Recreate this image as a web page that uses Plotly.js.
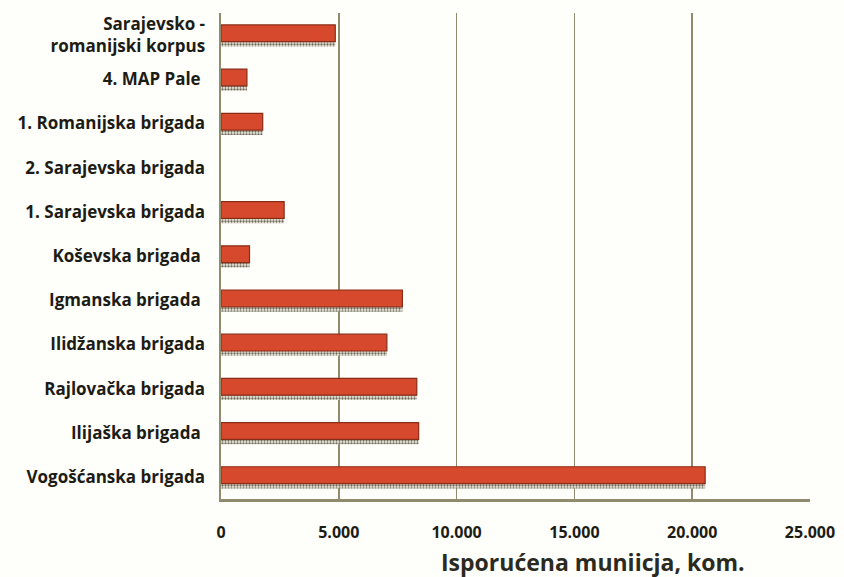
<!DOCTYPE html>
<html>
<head>
<meta charset="utf-8">
<script src="https://cdn.plot.ly/plotly-3.0.1.min.js"></script>
<style>html,body{margin:0;padding:0;background:#fefefb;}#chart{width:844px;height:577px;}</style>
</head>
<body>
<div id="chart"></div>
<script>
const units = ["Sarajevsko -<br>romanijski korpus", "4. MAP Pale ", "1. Romanijska brigada", "2. Sarajevska brigada", "1. Sarajevska brigada", "Koševska brigada ", "Igmanska brigada ", "Ilidžanska brigada", "Rajlovačka brigada", "Ilijaška brigada ", "Vogošćanska brigada"];
const ammo = [4850, 1100, 1770, 0, 2680, 1210, 7700, 7040, 8310, 8390, 20550];
const xTicks = [0, 5000, 10000, 15000, 20000, 25000];
const xTickText = ["0", "5.000", "10.000", "15.000", "20.000", "25.000"];
const xTitle = "Isporućena muniicja, kom.";

const font = "'Open Sans', Lato, 'DejaVu Sans', sans-serif";

const bars = {
  type: 'bar', orientation: 'h', y: units, x: ammo,
  width: 0.38, offset: -0.23,
  marker: {color: '#d7492c', line: {color: '#8a2d17', width: ammo.map(v => v > 0 ? 1.2 : 0)}},
  hoverinfo: 'skip'
};
const shadow = {
  type: 'bar', orientation: 'h', y: units, x: ammo,
  width: 0.11, offset: 0.15,
  marker: {color: '#e8e6d8', line: {width: 0},
    pattern: {shape: '.', fgcolor: '#6e6a5a', bgcolor: '#ecebe0', size: 3, solidity: 0.45}},
  hoverinfo: 'skip'
};

const layout = {
  width: 844, height: 577,
  paper_bgcolor: '#fefefb', plot_bgcolor: '#fefefb',
  margin: {l: 221, r: 34, t: 13, b: 78},
  showlegend: false,
  barmode: 'overlay',
  font: {family: font, color: '#1c1c14'},
  xaxis: {
    range: [0, 25000], tickvals: xTicks, ticktext: xTickText,
    showgrid: true, gridcolor: '#8e8c6c', gridwidth: 1.5,
    zeroline: false, showline: true, linecolor: '#8e8c6c', linewidth: 2.5,
    ticks: '', tickfont: {size: 16, family: font, weight: 'bold', color: '#1c1c14'},
    ticklabelstandoff: 17
  },
  yaxis: {
    autorange: 'reversed', type: 'category',
    showgrid: false, zeroline: false, showline: true, linecolor: '#8e8c6c', linewidth: 2.5,
    ticks: '', ticklabelstandoff: 10,
    tickfont: {size: 17, family: font, weight: 'bold', color: '#1c1c14'}
  },
  annotations: [{
    text: xTitle, xref: 'paper', yref: 'paper', x: 0.632, y: -0.1296,
    xanchor: 'center', yanchor: 'middle', showarrow: false,
    font: {size: 23, family: font, weight: 'bold', color: '#2a2a20'}
  }]
};

Plotly.newPlot('chart', [shadow, bars], layout, {displayModeBar: false, staticPlot: true});
</script>
</body>
</html>
